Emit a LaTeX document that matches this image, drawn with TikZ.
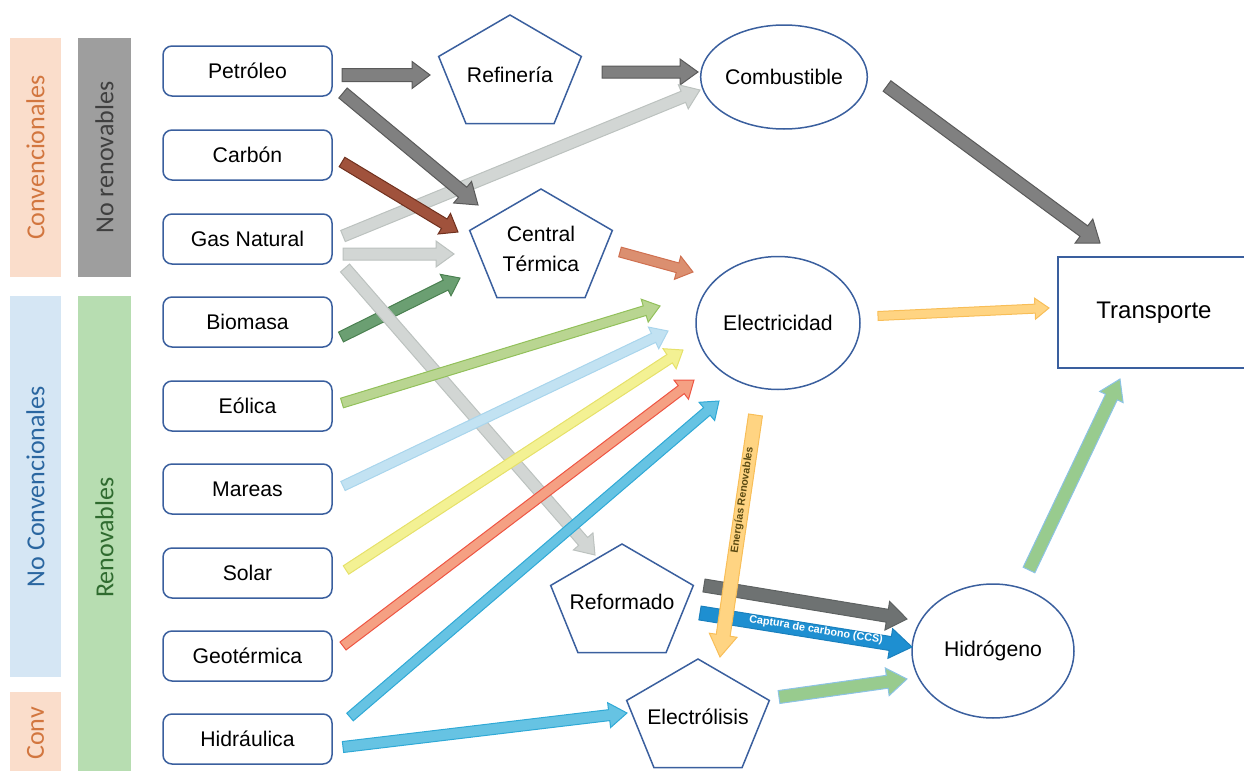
\documentclass[tikz,border=0pt]{standalone}
\usepackage{fontspec}
\setmainfont{Liberation Sans}
\newfontfamily\barfont{Carlito}
\usetikzlibrary{calc,shapes.geometric}

% palette
\definecolor{boxblue}{HTML}{3A5F9E}
\definecolor{convfill}{HTML}{FADDCB}
\definecolor{convtext}{HTML}{D2763F}
\definecolor{nrfill}{HTML}{9E9E9E}
\definecolor{nrtext}{HTML}{3F3F3F}
\definecolor{ncfill}{HTML}{D5E6F4}
\definecolor{nctext}{HTML}{2A66A0}
\definecolor{rnfill}{HTML}{B7DDB1}
\definecolor{rntext}{HTML}{2F6B2F}
\definecolor{grayF}{HTML}{808080}\definecolor{grayD}{HTML}{5A5A5A}
\definecolor{lgrayF}{HTML}{D2D6D4}\definecolor{lgrayD}{HTML}{BCC2BF}
\definecolor{brownF}{HTML}{A0523C}\definecolor{brownD}{HTML}{70301E}
\definecolor{dgreenF}{HTML}{6B9F72}\definecolor{dgreenD}{HTML}{4A8050}
\definecolor{obrownF}{HTML}{DB8F70}\definecolor{obrownD}{HTML}{CF7050}
\definecolor{lgreenF}{HTML}{B9D591}\definecolor{lgreenD}{HTML}{92C05A}
\definecolor{lblueF}{HTML}{C2E2F2}\definecolor{lblueD}{HTML}{A9D5EC}
\definecolor{yellowF}{HTML}{F3F193}\definecolor{yellowD}{HTML}{E6E16A}
\definecolor{redF}{HTML}{F5A083}\definecolor{redD}{HTML}{EE5543}
\definecolor{blueF}{HTML}{66C3E3}\definecolor{blueD}{HTML}{2FA9D6}
\definecolor{orangeF}{HTML}{FFD482}\definecolor{orangeD}{HTML}{F8BE58}
\definecolor{rgrayF}{HTML}{6E7272}\definecolor{rgrayD}{HTML}{5E6262}
\definecolor{ccsF}{HTML}{1E8FD1}\definecolor{ccsD}{HTML}{1A80BD}
\definecolor{hgreenF}{HTML}{98CB8E}\definecolor{hgreenD}{HTML}{8CC3E5}
\definecolor{ertext}{HTML}{5A4A12}

% block arrow: style, tail, tip, shaft width, head width, head length (px)
\newcommand\blockarrow[6]{%
  \pgfmathsetmacro\baS{#4*0.25}%
  \pgfmathsetmacro\baH{#5*0.25}%
  \pgfmathsetmacro\baL{#6*0.5}%
  \coordinate (ba-neck) at ($(#3)!\baL pt!(#2)$);
  \draw[#1] ($(#2)!\baS pt!90:(#3)$) -- ($(ba-neck)!\baS pt!90:(#3)$)
    -- ($(ba-neck)!\baH pt!90:(#3)$) -- (#3)
    -- ($(ba-neck)!\baH pt!-90:(#3)$) -- ($(ba-neck)!\baS pt!-90:(#3)$)
    -- ($(#2)!\baS pt!-90:(#3)$) -- cycle;
}

\begin{document}
\begin{tikzpicture}[x=0.5pt,y=-0.5pt,
  lbl/.style={font=\fontsize{10.6pt}{15pt}\selectfont, align=center},
  bar/.style={rotate=90, inner sep=0pt, font=\barfont\fontsize{13pt}{15pt}\selectfont},
  src/.style={lbl, draw=boxblue, line width=0.75pt, rounded corners=4.5pt,
              minimum width=84.5pt, minimum height=25pt, inner sep=0pt},
  ell/.style={lbl, ellipse, draw=boxblue, line width=0.75pt, inner sep=0pt},
  pent/.style={draw=boxblue, line width=0.75pt, line join=miter},
  ba/.style={line width=0.5pt, line join=miter},
  agray/.style={ba, fill=grayF, draw=grayD},
  algray/.style={ba, fill=lgrayF, draw=lgrayD},
  abrown/.style={ba, fill=brownF, draw=brownD},
  adgreen/.style={ba, fill=dgreenF, draw=dgreenD},
  aobrown/.style={ba, fill=obrownF, draw=obrownD},
  algreen/.style={ba, fill=lgreenF, draw=lgreenD},
  alblue/.style={ba, fill=lblueF, draw=lblueD},
  ayellow/.style={ba, fill=yellowF, draw=yellowD},
  ared/.style={ba, fill=redF, draw=redD},
  ablue/.style={ba, fill=blueF, draw=blueD},
  aorange/.style={ba, fill=orangeF, draw=orangeD},
  argray/.style={ba, fill=rgrayF, draw=rgrayD},
  accs/.style={ba, fill=ccsF, draw=ccsD},
  ahgreen/.style={ba, fill=hgreenF, draw=hgreenD},
]
\useasboundingbox (0,0) rectangle (1244,771);
\clip (0,0) rectangle (1244,771);

% classification bars
\node[bar, fill=convfill, text=convtext, minimum width=119.5pt, minimum height=25.5pt] (convbar) at (35.5,157.5) {Convencionales};
\node[bar, fill=nrfill, text=nrtext, minimum width=119.5pt, minimum height=26.5pt] (nrbar) at (104.5,157.5) {No renovables};
\node[bar, fill=ncfill, text=nctext, minimum width=190.5pt, minimum height=25.5pt] (ncbar) at (35.5,486.5) {No Convencionales};
\node[bar, fill=rnfill, text=rntext, minimum width=241.5pt, minimum height=26.5pt] (rnbar) at (104.5,537.5) {Renovables};
\node[bar, fill=convfill, text=convtext, minimum width=41.5pt, minimum height=25.5pt] (convbar2) at (35.5,733.5) {Conv};

% primary sources
\node[src] (petroleo) at (247.5,71) {Petróleo};
\node[src] (carbon) at (247.5,155) {Carbón};
\node[src] (gas) at (247.5,239) {Gas Natural};
\node[src] (biomasa) at (247.5,322) {Biomasa};
\node[src] (eolica) at (247.5,406) {Eólica};
\node[src] (mareas) at (247.5,489) {Mareas};
\node[src] (solar) at (247.5,573) {Solar};
\node[src] (geo) at (247.5,656) {Geotérmica};
\node[src] (hidraulica) at (247.5,739) {Hidráulica};

% processes (pentagons)
\node[lbl] (refineria) at (510,75) {Refinería};
\node[lbl] (central) at (541,249) {Central\\Térmica};
\node[lbl] (reformado) at (622,602) {Reformado};
\node[lbl] (electrolisis) at (698,717) {Electrólisis};
\foreach \p/\dy in {refineria/0, central/0, reformado/2, electrolisis/2}{
  \begin{scope}[shift={(\p)}, yshift=-\dy*0.5pt]
    \draw[pent] (-90:75 and 60) -- (-18:75 and 60) -- (54:75 and 60)
      -- (126:75 and 60) -- (198:75 and 60) -- cycle;
  \end{scope}
}

% energy carriers
\node[ell, minimum width=80pt, minimum height=52pt] (combustible) at (784,77) {Combustible};
\node[ell, minimum width=82pt, minimum height=66.5pt] (electricidad) at (778,323) {Electricidad};
\node[ell, minimum width=81pt, minimum height=67pt] (hidrogeno) at (993,651) {Hidrógeno};
\node[draw=boxblue, line width=0.75pt, minimum width=96pt, minimum height=55.5pt,
      font=\fontsize{12pt}{14pt}\selectfont] (transporte) at (1154,312.5) {Transporte};

% connector end points
\coordinate (petref-t) at (342,75);   \coordinate (petref-h) at (430,75);
\coordinate (refcom-t) at (602,72);   \coordinate (refcom-h) at (698,72);
\coordinate (petcen-t) at (343,93);   \coordinate (petcen-h) at (478,205);
\coordinate (carcen-t) at (342,162);  \coordinate (carcen-h) at (458,232);
\coordinate (gascom-t) at (343,236);  \coordinate (gascom-h) at (700,90);
\coordinate (gascen-t) at (343,254);  \coordinate (gascen-h) at (454,254);
\coordinate (gasref-t) at (345,268);  \coordinate (gasref-h) at (595,555);
\coordinate (biocen-t) at (341,337);  \coordinate (biocen-h) at (460,278);
\coordinate (cenele-t) at (620,252);  \coordinate (cenele-h) at (693,272);
\coordinate (eolele-t) at (342,403);  \coordinate (eolele-h) at (660,306);
\coordinate (marele-t) at (343,486);  \coordinate (marele-h) at (668,331);
\coordinate (solele-t) at (346,570);  \coordinate (solele-h) at (683,350);
\coordinate (geoele-t) at (343,646);  \coordinate (geoele-h) at (694,380);
\coordinate (hidele-t) at (350,717);  \coordinate (hidele-h) at (719,401);
\coordinate (hidelc-t) at (343,747);  \coordinate (hidelc-h) at (627,713);
\coordinate (eletra-t) at (878,316);  \coordinate (eletra-h) at (1049,308);
\coordinate (comtra-t) at (887,86);   \coordinate (comtra-h) at (1100,243);
\coordinate (eleelc-t) at (755.5,415);\coordinate (eleelc-h) at (720,657);
\coordinate (refhid-t) at (704,585.5);\coordinate (refhid-h) at (907,619);
\coordinate (ccs-t) at (700,613);     \coordinate (ccs-h) at (912,647);
\coordinate (elchid-t) at (779,697);  \coordinate (elchid-h) at (907,679);
\coordinate (hidtra-t) at (1029,570); \coordinate (hidtra-h) at (1120,379);

% flows
\blockarrow{agray}{petref-t}{petref-h}{13}{27}{18}
\blockarrow{agray}{refcom-t}{refcom-h}{12}{26}{18}
\blockarrow{algray}{gascom-t}{gascom-h}{12}{26}{18}
\blockarrow{agray}{petcen-t}{petcen-h}{13}{28}{20}
\blockarrow{abrown}{carcen-t}{carcen-h}{11}{24}{16}
\blockarrow{algray}{gascen-t}{gascen-h}{12}{26}{18}
\blockarrow{adgreen}{biocen-t}{biocen-h}{11}{24}{16}
\blockarrow{algray}{gasref-t}{gasref-h}{12}{26}{18}
\blockarrow{aobrown}{cenele-t}{cenele-h}{10}{24}{16}
\blockarrow{algreen}{eolele-t}{eolele-h}{10}{24}{16}
\blockarrow{alblue}{marele-t}{marele-h}{10}{24}{16}
\blockarrow{ayellow}{solele-t}{solele-h}{10}{24}{16}
\blockarrow{ared}{geoele-t}{geoele-h}{10}{24}{16}
\blockarrow{ablue}{hidele-t}{hidele-h}{10}{24}{16}
\blockarrow{ablue}{hidelc-t}{hidelc-h}{11}{25}{18}
\blockarrow{aorange}{eletra-t}{eletra-h}{9}{21}{14}
\blockarrow{agray}{comtra-t}{comtra-h}{13}{30}{20}
\blockarrow{argray}{refhid-t}{refhid-h}{13}{29}{20}
\blockarrow{accs}{ccs-t}{ccs-h}{14}{30}{22}
\blockarrow{ahgreen}{elchid-t}{elchid-h}{13}{28}{20}
\blockarrow{ahgreen}{hidtra-t}{hidtra-h}{13}{26}{20}
\blockarrow{aorange}{eleelc-t}{eleelc-h}{14}{28}{22}

% flow labels
\node[rotate=-9.1, text=white, font=\bfseries\fontsize{5.4pt}{6pt}\selectfont, inner sep=0pt]
  (ccslbl) at (816,630) {Captura de carbono (CCS)};
\node[rotate=81.8, text=ertext, font=\bfseries\fontsize{5.3pt}{6pt}\selectfont, inner sep=0pt]
  (erlbl) at (742.5,500) {Energías Renovables};
\end{tikzpicture}
\end{document}
